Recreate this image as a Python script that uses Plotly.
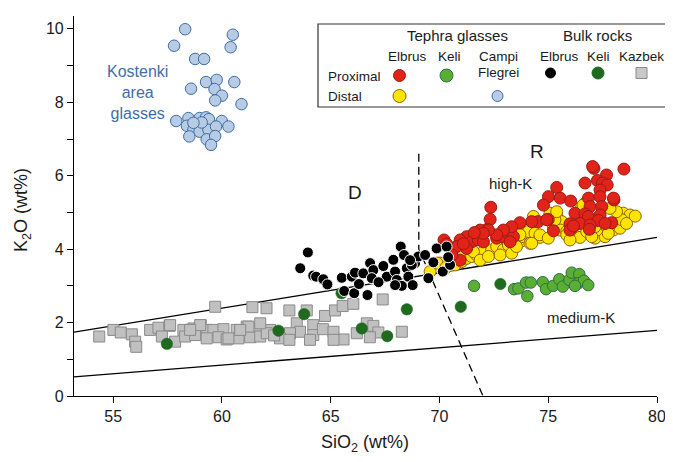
import plotly.graph_objects as go

# ---------------- data (SiO2 wt%, K2O wt%) ----------------
cf_x = [58.31, 57.8, 60.5, 60.4, 58.77, 59.18, 58.58, 59.27, 59.76, 60.57, 59.66, 60.0, 59.69, 60.9,
        57.9, 58.46, 58.97, 59.27, 59.4, 59.99, 60.3, 58.39, 58.69, 58.97, 59.38, 59.73, 58.5, 59.3,
        59.69, 59.5, 59.07, 58.69]
cf_y = [9.99, 9.54, 9.84, 9.5, 9.18, 9.18, 8.37, 8.55, 8.61, 8.55, 8.36, 8.18, 8.05, 7.95,
        7.49, 7.57, 7.57, 7.59, 7.54, 7.49, 7.34, 7.36, 7.25, 7.2, 7.25, 7.34, 7.07, 6.99,
        7.08, 6.84, 7.45, 7.44]

kazbek_x = [54.36, 55.01, 55.35, 55.86, 56.01, 56.06, 59.69, 61.4, 62.05, 56.7, 57.08, 57.59, 57.85,
            57.24, 58.23, 58.69, 59.03, 59.3, 59.61, 60.07, 60.68, 61.14, 61.68, 62.21, 58.31, 58.77,
            59.3, 59.84, 60.22, 60.76, 61.3, 61.76, 62.06, 63.1, 63.9, 64.74, 65.2, 65.55, 66.04,
            67.39, 68.27, 64.2, 64.2, 64.64, 65.13, 65.59, 66.2, 66.66, 66.96, 67.19, 63.44, 63.59,
            63.13, 62.67, 61.76, 61.22, 60.84, 60.3, 59.0, 58.54, 64.05, 57.62, 65.13, 63.1, 62.4, 66.8]
kazbek_y = [1.62, 1.8, 1.73, 1.68, 1.48, 1.34, 2.43, 2.42, 2.39, 1.8, 1.86, 1.91, 1.48,
            1.62, 1.8, 1.84, 1.93, 1.8, 1.8, 1.82, 1.8, 1.89, 1.84, 1.8, 1.62, 1.66,
            1.57, 1.6, 1.54, 1.57, 1.6, 1.62, 1.71, 2.33, 2.33, 2.18, 2.33, 2.45, 2.51,
            2.63, 1.75, 1.93, 1.66, 1.82, 1.75, 1.54, 1.71, 1.98, 1.91, 1.73, 1.98, 1.75,
            1.71, 1.57, 1.98, 1.89, 1.8, 1.57, 1.93, 1.8, 1.53, 1.93, 1.53, 1.53, 1.65, 1.6]

keli_bulk_x = [57.47, 62.6, 63.78, 66.43, 67.6, 68.5, 70.98, 72.8, 65.5]
keli_bulk_y = [1.42, 1.78, 2.23, 1.84, 1.63, 2.36, 2.43, 3.05, 2.8]

keli_glass_x = [71.59, 73.43, 73.63, 73.98, 74.04, 74.2, 74.75, 74.9, 75.23, 75.51, 75.67, 75.97,
                76.08, 76.43, 76.38, 76.64, 76.84, 76.23]
keli_glass_y = [3.0, 2.91, 2.93, 3.09, 2.72, 3.09, 3.1, 2.91, 3.0, 3.18, 2.98, 3.16,
                3.36, 3.32, 3.07, 3.14, 3.02, 3.0]

elbrus_distal_x = [69.57, 70.72, 71.02, 71.25, 71.48, 71.71, 72.02, 72.4, 72.63, 72.94, 73.17, 73.47,
                   73.7, 73.86, 74.01, 71.56, 70.95, 70.57, 71.87, 72.25, 72.79, 73.32, 70.03, 73.7,
                   74.09, 74.39, 74.62, 74.16, 75.08, 75.39, 75.62, 75.24, 75.55, 75.85, 76.16, 76.46,
                   76.77, 77.15, 77.61, 77.99, 78.3, 78.45, 78.76, 78.38, 78.14, 77.84, 76.69, 76.54,
                   76.16, 77.23, 77.69, 78.6, 77.38, 76.6, 74.62, 74.24, 73.54, 73.7, 75.31, 75.85,
                   77.0, 77.76, 77.15, 74.32, 75.39, 69.89, 70.3, 75.0, 76.0, 79.0]
elbrus_distal_y = [3.39, 3.57, 3.66, 3.75, 3.8, 3.84, 3.93, 3.98, 4.07, 3.98, 4.11, 4.07,
                   4.2, 4.34, 4.43, 3.93, 3.93, 3.7, 3.7, 3.8, 3.84, 3.89, 3.62, 4.52,
                   4.48, 4.43, 4.32, 4.16, 4.98, 4.89, 4.75, 4.61, 4.52, 4.48, 4.39, 4.32,
                   4.48, 4.3, 4.34, 4.52, 4.57, 4.98, 4.93, 4.8, 5.02, 5.11, 5.25, 5.16,
                   4.61, 4.52, 4.61, 4.7, 4.75, 5.2, 4.39, 4.16, 4.07, 4.39, 4.8, 4.39,
                   4.34, 4.43, 4.61, 4.89, 5.02, 3.62, 3.5, 4.3, 4.25, 4.9]

elbrus_prox_x = [72.36, 72.33, 72.2, 71.87, 71.25, 71.48, 70.95, 70.79, 71.25, 71.79, 72.02, 72.63,
                 72.94, 73.17, 73.4, 73.25, 70.21, 70.33, 70.95, 70.57, 77.1, 78.48, 77.68, 77.26,
                 76.69, 77.49, 77.71, 77.38, 75.39, 75.01, 74.78, 75.55, 76.03, 76.85, 77.38, 78.02,
                 76.92, 77.46, 76.23, 76.69, 76.84, 77.38, 77.3, 76.0, 76.46, 76.92, 77.92, 77.61,
                 76.0, 76.89, 75.24, 75.0, 74.54, 74.24, 73.7, 74.93, 73.32, 72.94, 72.63, 72.25,
                 72.02, 76.16, 77.04, 78.0, 71.6, 71.1]
elbrus_prox_y = [5.14, 4.81, 4.54, 4.52, 4.34, 4.2, 4.25, 4.07, 4.02, 4.25, 4.2, 4.3,
                 4.34, 4.43, 4.34, 4.2, 4.25, 4.14, 3.7, 3.84, 6.2, 6.18, 6.02, 5.87,
                 5.8, 5.8, 5.75, 5.61, 5.68, 5.43, 5.2, 5.39, 5.31, 5.39, 5.43, 5.34,
                 5.16, 5.16, 4.98, 4.96, 4.89, 4.93, 4.78, 4.69, 4.7, 4.66, 4.72, 4.7,
                 4.52, 4.54, 4.5, 4.81, 4.75, 4.75, 4.72, 4.8, 4.61, 4.52, 4.39, 4.52,
                 4.43, 4.63, 6.25, 5.39, 4.45, 4.15]

elbrus_bulk_x = [63.95, 63.6, 64.2, 64.33, 64.66, 64.85, 65.51, 65.97, 66.12, 66.5, 66.81, 66.96,
                 66.89, 67.42, 67.58, 67.88, 67.96, 68.04, 68.22, 68.37, 68.5, 68.57, 68.77, 68.88,
                 69.03, 68.27, 65.62, 66.08, 66.69, 67.96, 69.72, 70.15, 70.49, 69.49, 69.34, 68.73,
                 69.87, 70.33, 70.4, 68.65, 67.2, 66.3]
elbrus_bulk_y = [3.91, 3.48, 3.28, 3.25, 3.18, 3.04, 3.22, 3.25, 3.36, 3.34, 3.62, 3.43,
                 3.21, 3.54, 3.25, 3.71, 3.39, 3.16, 4.07, 3.84, 3.48, 3.25, 3.02, 3.62,
                 3.8, 3.0, 2.86, 2.8, 2.75, 3.02, 3.64, 3.39, 3.57, 3.21, 3.84, 3.57,
                 4.02, 4.07, 3.78, 3.7, 3.1, 3.05]

# classification lines
highk_x = [53.2, 80.0]
highk_y = [1.74, 4.32]
medk_x = [53.2, 80.0]
medk_y = [0.52, 1.79]
dr_x = [69.05, 69.05, 72.0]
dr_y = [6.6, 4.0, 0.0]

x_ticks = [55, 60, 65, 70, 75, 80]
y_ticks = [0, 2, 4, 6, 8, 10]

# ---------------- figure ----------------
# the page body has an 8 px default margin, so the figure sits at (8, 8)
OFF = 8
W, H = 673 - OFF, 462 - OFF
ML, MR, MT, MB = 74 - OFF, 16, 16 - OFF, 66
PW, PH = W - ML - MR, H - MT - MB
FONT = "Liberation Sans, Arial, sans-serif"


def px(x):
    return (x - OFF - ML) / PW


def py(y):
    return (H + OFF - MB - y) / PH


fig = go.Figure()

line_style = dict(color="black", width=1.3)
fig.add_trace(go.Scatter(x=highk_x, y=highk_y, mode="lines", line=line_style, hoverinfo="skip"))
fig.add_trace(go.Scatter(x=medk_x, y=medk_y, mode="lines", line=line_style, hoverinfo="skip"))
fig.add_trace(go.Scatter(x=dr_x, y=dr_y, mode="lines",
                         line=dict(color="black", width=1.3, dash="8px,5px"), hoverinfo="skip"))

fig.add_trace(go.Scatter(x=kazbek_x, y=kazbek_y, mode="markers",
                         marker=dict(symbol="square", size=11, color="#c0c0c0",
                                     line=dict(color="#8a8a8a", width=1))))
fig.add_trace(go.Scatter(x=keli_bulk_x, y=keli_bulk_y, mode="markers",
                         marker=dict(size=11.5, color="#1f6a1f", line=dict(color="#1f6a1f", width=0.5))))
fig.add_trace(go.Scatter(x=keli_glass_x, y=keli_glass_y, mode="markers",
                         marker=dict(size=11.5, color="#5aaf33", line=dict(color="#2f6e4a", width=1))))
fig.add_trace(go.Scatter(x=cf_x, y=cf_y, mode="markers",
                         marker=dict(size=11.5, color="#b7cbe5", line=dict(color="#3e6ea3", width=1))))
fig.add_trace(go.Scatter(x=elbrus_distal_x, y=elbrus_distal_y, mode="markers",
                         marker=dict(size=12, color="#ffe400", line=dict(color="#8c6500", width=1))))
fig.add_trace(go.Scatter(x=elbrus_prox_x, y=elbrus_prox_y, mode="markers",
                         marker=dict(size=12, color="#e2231a", line=dict(color="#9a1c12", width=1))))
fig.add_trace(go.Scatter(x=elbrus_bulk_x, y=elbrus_bulk_y, mode="markers",
                         marker=dict(size=11, color="black", line=dict(color="white", width=1))))

ann = []


def text(x, y, s, size=13, color="#1a1a1a", xref="x", yref="y", xanchor="center", textangle=0):
    ann.append(dict(x=x, y=y, xref=xref, yref=yref, text=s, showarrow=False, textangle=textangle,
                    xanchor=xanchor, yanchor="middle", font=dict(family=FONT, size=size, color=color)))


text(66.1, 5.53, "D", size=19)
text(74.5, 6.65, "R", size=19)
text(73.25, 5.8, "high-K", size=15)
text(76.5, 2.13, "medium-K", size=15)
ann.append(dict(x=56.1, y=8.26, xref="x", yref="y", text="Kostenki<br>area<br>glasses",
                showarrow=False, align="center", xanchor="center", yanchor="middle",
                font=dict(family=FONT, size=16, color="#3d6fa6")))

# axis titles
text(px(365), py(443), "SiO<sub>2</sub> (wt%)", size=18, xref="paper", yref="paper")
text(px(22), py(210), "K<sub>2</sub>O (wt%)", size=18, xref="paper", yref="paper", textangle=-90)

# legend box content (pixel positions converted to paper)
text(px(457), py(35), "Tephra glasses", size=15, xref="paper", yref="paper")
text(px(597), py(35), "Bulk rocks", size=15, xref="paper", yref="paper")
for cx, lab in [(407, "Elbrus"), (449, "Keli"), (498, "Campi"), (559, "Elbrus"), (598, "Keli"), (641, "Kazbek")]:
    text(px(cx), py(56.5), lab, size=13.5, xref="paper", yref="paper")
text(px(498), py(72.5), "Flegrei", size=13.5, xref="paper", yref="paper")
text(px(326), py(76), "Proximal", size=13.5, xref="paper", yref="paper", xanchor="left")
text(px(326), py(96), "Distal", size=13.5, xref="paper", yref="paper", xanchor="left")

shapes = [dict(type="rect", xref="paper", yref="paper", x0=px(318), x1=px(666), y0=py(107), y1=py(24),
               line=dict(color="#333", width=1.2), fillcolor="white", layer="below")]


def sym(cx, cy, fill, edge, d=12, kind="circle"):
    shapes.append(dict(type=kind, xref="paper", yref="paper", xsizemode="pixel", ysizemode="pixel",
                       xanchor=px(cx), yanchor=py(cy), x0=-d / 2, x1=d / 2, y0=-d / 2, y1=d / 2,
                       fillcolor=fill, line=dict(color=edge, width=1)))


sym(399.5, 75.5, "#e2231a", "#9a1c12", 12)
sym(446.5, 75.5, "#5aaf33", "#2f6e4a", 13)
sym(550.5, 73, "black", "black", 10)
sym(598, 73, "#1f6a1f", "#1f6a1f", 12)
sym(641.5, 73, "#c8c8c8", "#8a8a8a", 11, kind="rect")
sym(399.5, 96, "#ffe400", "#8c6500", 13)
sym(497.5, 96, "#b7cbe5", "#3e6ea3", 11)

fig.update_layout(
    width=W, height=H, margin=dict(l=ML, r=MR, t=MT, b=MB, autoexpand=False),
    paper_bgcolor="white", plot_bgcolor="white", showlegend=False,
    font=dict(family=FONT, size=16, color="#1a1a1a"),
    annotations=ann, shapes=shapes,
    xaxis=dict(range=[53.2, 80.0], tickvals=x_ticks, ticks="outside", ticklen=6, tickwidth=1.2,
               tickcolor="black", showline=True, linecolor="black", linewidth=1.2, showgrid=False,
               zeroline=False, tickfont=dict(size=16), automargin=False),
    yaxis=dict(range=[0, 10.35], tickvals=y_ticks, ticks="outside", ticklen=6, tickwidth=1.2,
               tickcolor="black", showline=True, linecolor="black", linewidth=1.2, showgrid=False,
               zeroline=False, tickfont=dict(size=16), automargin=False,
               minor=dict(dtick=1, tick0=0, ticks="outside", ticklen=6, tickwidth=1.2, tickcolor="black")),
)

fig.write_html("out.html")
